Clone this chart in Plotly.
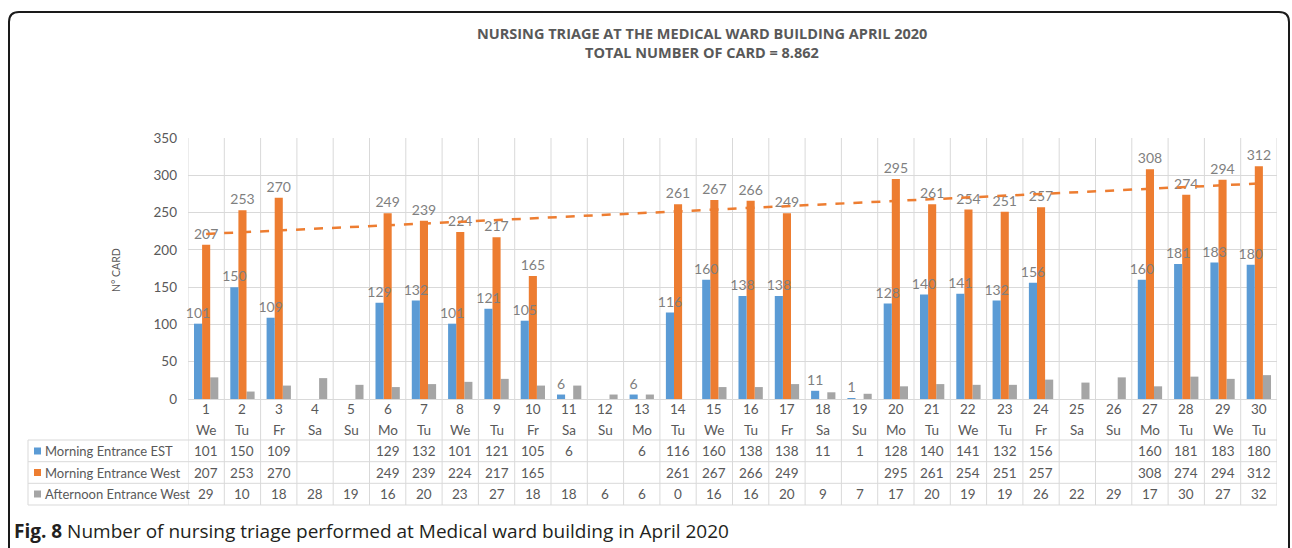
import numpy as np
import plotly.graph_objects as go

# ---------------- data ----------------
days = list(range(1, 31))
day_names = ["We", "Tu", "Fr", "Sa", "Su", "Mo", "Tu", "We", "Tu", "Fr",
             "Sa", "Su", "Mo", "Tu", "We", "Tu", "Fr", "Sa", "Su", "Mo",
             "Tu", "We", "Tu", "Fr", "Sa", "Su", "Mo", "Tu", "We", "Tu"]
morning_est = [101, 150, 109, None, None, 129, 132, 101, 121, 105,
               6, None, 6, 116, 160, 138, 138, 11, 1, 128,
               140, 141, 132, 156, None, None, 160, 181, 183, 180]
morning_west = [207, 253, 270, None, None, 249, 239, 224, 217, 165,
                None, None, None, 261, 267, 266, 249, None, None, 295,
                261, 254, 251, 257, None, None, 308, 274, 294, 312]
afternoon_west = [29, 10, 18, 28, 19, 16, 20, 23, 27, 18,
                  18, 6, 6, 0, 16, 16, 20, 9, 7, 17,
                  20, 19, 19, 26, 22, 29, 17, 30, 27, 32]
series_names = ["Morning Entrance EST", "Morning Entrance West", "Afternoon Entrance West"]
title_1 = "NURSING TRIAGE AT THE MEDICAL WARD BUILDING APRIL 2020"
title_2 = "TOTAL NUMBER OF CARD = 8.862"
caption_bold = "Fig. 8"
caption_rest = " Number of nursing triage performed at Medical ward building in April 2020"

# ---------------- style ----------------
W, H = 1292, 548
PL, PR, PT, PB = 188, 1277, 138, 399
BLUE, ORANGE, GRAY = "#5B9BD5", "#ED7D31", "#A5A5A5"
GRID = "#D9D9D9"
TXT = "#595959"
FONT = "Lato, 'Open Sans', sans-serif"
BAR_W = 0.2233
OFFSETS = [-1.5 * BAR_W, -0.5 * BAR_W, 0.5 * BAR_W]


def pxx(p):
    return (p - PL) / (PR - PL)


def pyy(p):
    return (PB - p) / (PB - PT)


fig = go.Figure()
colors = [BLUE, ORANGE, GRAY]
all_series = [morning_est, morning_west, afternoon_west]
# draw gray, orange, then blue so the blue labels sit on top of the orange bars
for i in [2, 1, 0]:
    name, vals, col = series_names[i], all_series[i], colors[i]
    fig.add_trace(go.Bar(
        x=days, y=vals, name=name, marker=dict(color=col, line=dict(width=0)),
        width=BAR_W, offset=OFFSETS[i],
        texttemplate="%{y}" if i < 2 else None,
        textposition="outside" if i < 2 else "none",
        textfont=dict(family=FONT, size=14, color="#7F7F7F"),
        constraintext="none", textangle=0, cliponaxis=False,
    ))

# linear trend of the Morning Entrance West series
xs = np.array([d for d, v in zip(days, morning_west) if v is not None], dtype=float)
ys = np.array([v for v in morning_west if v is not None], dtype=float)
slope, intercept = np.polyfit(xs, ys, 1)
trend_x = [days[0], days[-1]]
trend_y = [slope * d + intercept for d in trend_x]
fig.add_trace(go.Scatter(x=trend_x, y=trend_y, mode="lines",
                         line=dict(color=ORANGE, width=2.5, dash="dash"),
                         showlegend=False, hoverinfo="skip"))

shapes = []
annotations = []

# table geometry (pixels)
row_lines = [440, 461.7, 483.3, 505]
row_text = [451, 472.5, 494]
TABLE_LEFT = 28

for yl in row_lines:
    shapes.append(dict(type="line", xref="paper", yref="paper",
                       x0=pxx(TABLE_LEFT), x1=1, y0=pyy(yl), y1=pyy(yl),
                       line=dict(color=GRID, width=1), layer="below"))
shapes.append(dict(type="line", xref="paper", yref="paper",
                   x0=pxx(TABLE_LEFT), x1=pxx(TABLE_LEFT),
                   y0=pyy(row_lines[0]), y1=pyy(row_lines[-1]),
                   line=dict(color=GRID, width=1), layer="below"))
for k in range(len(days) + 1):
    xb = days[0] - 0.5 + k
    shapes.append(dict(type="line", xref="x", yref="paper",
                       x0=xb, x1=xb, y0=pyy(row_lines[-1]), y1=1,
                       line=dict(color=GRID, width=1), layer="below"))


def ann(x, y, text, xref="paper", xanchor="center", size=13.5, color=TXT, family=FONT, **kw):
    d = dict(x=x, y=y, xref=xref, yref="paper", text=text, showarrow=False,
             xanchor=xanchor, yanchor="middle",
             font=dict(family=family, size=size, color=color))
    d.update(kw)
    annotations.append(d)


# day numbers and names
for d, nm in zip(days, day_names):
    ann(d, pyy(409), str(d), xref="x")
    ann(d, pyy(430), nm, xref="x")

# table rows
for r, (name, vals, col) in enumerate(zip(series_names, all_series, colors)):
    yc = row_text[r]
    shapes.append(dict(type="rect", xref="paper", yref="paper",
                       x0=pxx(34), x1=pxx(41), y0=pyy(yc - 3.5), y1=pyy(yc + 3.5),
                       fillcolor=col, line=dict(width=0)))
    ann(pxx(43), pyy(yc), name, xanchor="left", size=13)
    for d, v in zip(days, vals):
        if v is None:
            continue
        ann(d, pyy(yc), str(v), xref="x")

# titles
ann(pxx(702), pyy(34), f"<b>{title_1}</b>", size=14.5, family="'Open Sans', sans-serif")
ann(pxx(702), pyy(53), f"<b>{title_2}</b>", size=14.5, family="'Open Sans', sans-serif")
# y axis title
ann(pxx(116), pyy(270), "N° CARD", size=10.5, textangle=-90)
# caption
ann(pxx(12), pyy(531), f"<b>{caption_bold}</b>{caption_rest}", xanchor="left",
    size=19, color="#231F20", family="'Open Sans', sans-serif")

# rounded frame
bx0, by0, bx1, by1, rr = 9, 12, 1289, 575, 10
path = (f"M {pxx(bx0)},{pyy(by1)} L {pxx(bx0)},{pyy(by0 + rr)} "
        f"Q {pxx(bx0)},{pyy(by0)} {pxx(bx0 + rr)},{pyy(by0)} "
        f"L {pxx(bx1 - rr)},{pyy(by0)} "
        f"Q {pxx(bx1)},{pyy(by0)} {pxx(bx1)},{pyy(by0 + rr)} "
        f"L {pxx(bx1)},{pyy(by1)}")
shapes.append(dict(type="path", xref="paper", yref="paper", path=path,
                   line=dict(color="#1A1A1A", width=2)))

fig.update_layout(
    width=W, height=H,
    margin=dict(l=PL, r=W - PR, t=PT, b=H - PB, autoexpand=False),
    paper_bgcolor="white", plot_bgcolor="white",
    barmode="overlay",
    showlegend=False,
    xaxis=dict(range=[0.5, 30.5], showticklabels=False, showgrid=False,
               zeroline=False, showline=False, ticks=""),
    yaxis=dict(range=[0, 350], dtick=50, showgrid=True, gridcolor=GRID, gridwidth=1,
               zeroline=True, zerolinecolor=GRID, zerolinewidth=1, showline=False,
               ticks="", ticklabelstandoff=10,
               tickfont=dict(family=FONT, size=13.5, color=TXT)),
    shapes=shapes, annotations=annotations,
    font=dict(family=FONT),
)

fig.write_html("out.html", config={"displayModeBar": False},
               post_script="document.body.style.margin='0';")
